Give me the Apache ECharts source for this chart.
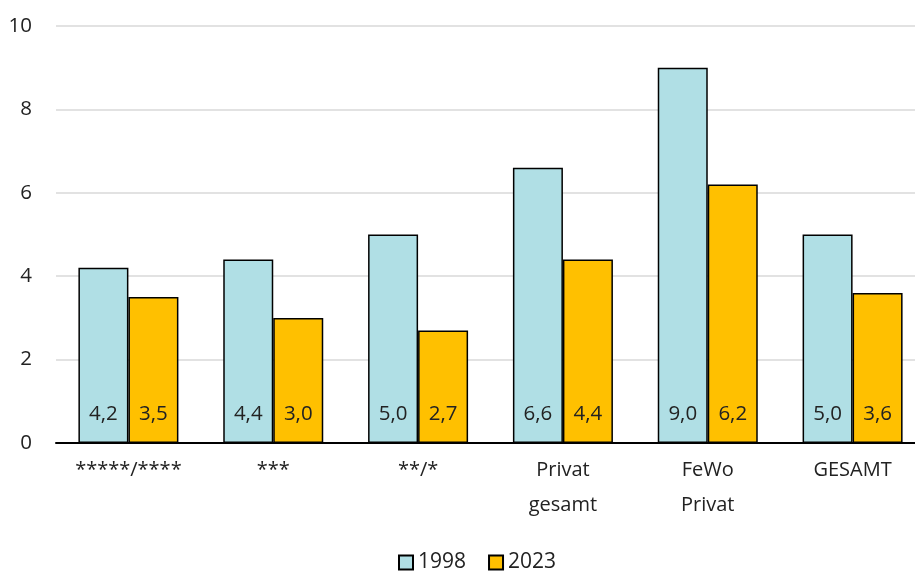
<!DOCTYPE html>
<html><head><meta charset="utf-8">
<script src="https://cdn.jsdelivr.net/npm/echarts@6/dist/echarts.min.js"></script>
<style>html,body{margin:0;padding:0;background:#fff}#c{width:915px;height:573px}</style>
</head><body><div id="c"></div>
<script>
const categories = ['*****/****', '***', '**/*', 'Privat\ngesamt', 'FeWo\nPrivat', 'GESAMT'];
const values1998 = [4.2, 4.4, 5.0, 6.6, 9.0, 5.0];
const values2023 = [3.5, 3.0, 2.7, 4.4, 6.2, 3.6];
const yTicks = { min: 0, max: 10, interval: 2 };
const FONT = '"Open Sans", "Noto Sans", sans-serif';
const chart = echarts.init(document.getElementById('c'));
const lbl = {
  show: true, position: 'insideBottom', distance: 18,
  color: '#222', fontSize: 20.5, fontFamily: FONT,
  formatter: p => p.value.toFixed(1).replace('.', ',')
};
chart.setOption({
  animation: false,
  textStyle: { fontFamily: FONT },
  grid: { left: 56, width: 869, top: 26, bottom: 130, outerBoundsMode: 'none', containLabel: false },
  legend: {
    bottom: 0, left: 398, padding: 0, itemWidth: 14, itemHeight: 14, itemGap: 22,
    icon: 'rect',
    textStyle: { fontSize: 21, color: '#222', fontFamily: FONT },
    data: ['1998', '2023']
  },
  xAxis: {
    type: 'category', data: categories,
    axisLine: { lineStyle: { color: '#000', width: 2 } },
    axisTick: { show: false },
    axisLabel: { color: '#222', fontSize: 20, fontFamily: FONT, margin: 10, lineHeight: 35, interval: 0 }
  },
  yAxis: {
    type: 'value', min: yTicks.min, max: yTicks.max, interval: yTicks.interval,
    axisLine: { show: false }, axisTick: { show: false },
    axisLabel: { color: '#222', fontSize: 20.5, fontFamily: FONT, margin: 24 },
    splitLine: { lineStyle: { color: '#d9d9d9', width: 1.5 } }
  },
  series: [
    { name: '1998', type: 'bar', data: values1998, barWidth: 50, barGap: '0%',
      itemStyle: { color: '#B0DFE5', borderColor: '#000', borderWidth: 1.5 }, label: lbl },
    { name: '2023', type: 'bar', data: values2023, barWidth: 50,
      itemStyle: { color: '#FFC000', borderColor: '#000', borderWidth: 1.5 }, label: lbl }
  ]
});
</script></body></html>
